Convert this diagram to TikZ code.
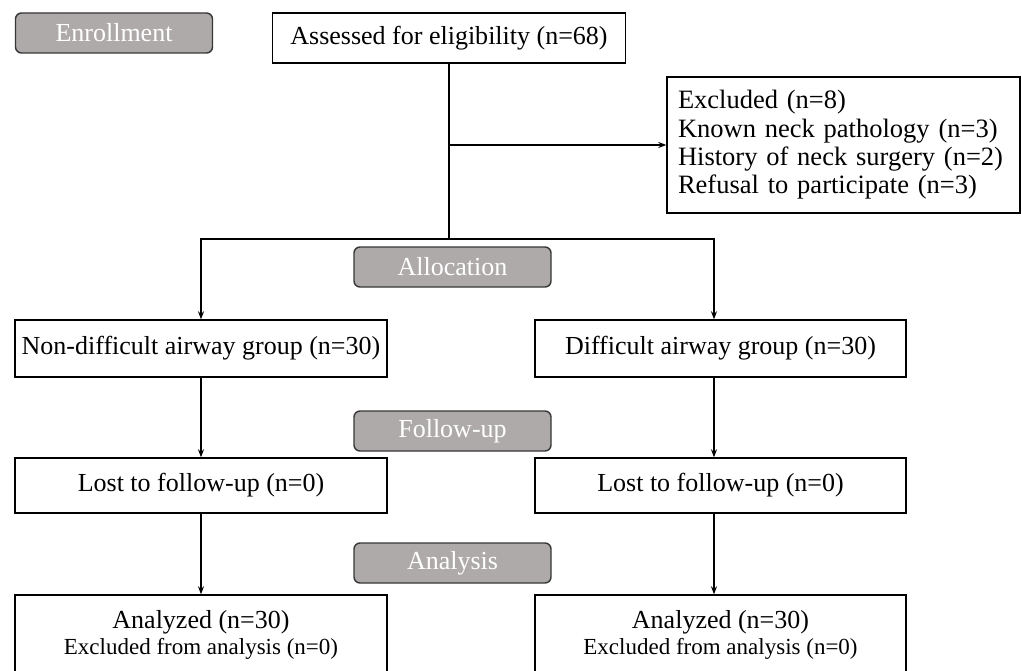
\documentclass[tikz,border=0pt]{standalone}
\usepackage{fontspec}
\setmainfont{Liberation Serif}
\usetikzlibrary{arrows.meta,calc}
\definecolor{labfill}{RGB}{174,170,170}
\definecolor{labdraw}{RGB}{55,55,55}
\tikzset{
  box/.style={draw=black, line width=1.4pt, fill=white, inner sep=0pt, align=center,
    font=\fontsize{26}{30}\selectfont},
  stage/.style={draw=labdraw, line width=1.4pt, fill=labfill, rounded corners=6pt,
    inner sep=0pt, text=white, minimum width=197pt, minimum height=40pt,
    font=\fontsize{26}{30}\selectfont},
  conn/.style={line width=1.4pt, draw=black},
  arr/.style={conn, -{Stealth[length=8pt,width=6pt]}}
}
\begin{document}
\begin{tikzpicture}[x=1pt,y=-1pt]
\useasboundingbox (0,0) rectangle (1022,671);
\clip (0,0) rectangle (1022,671);
\coordinate (lcol) at (201,0);
\coordinate (rcol) at (714,0);
\coordinate (jn) at (449,239);

\node[stage] (enr) at (114,33) {Enrollment};
\node[box, minimum width=353pt, minimum height=50pt] (assess) at (449,38) {Assessed for eligibility (n=68)};
\node[box, minimum width=353pt, minimum height=136pt, text width=331pt, align=left, inner xsep=11pt,
  font=\fontsize{26.5}{28.4}\selectfont] (excl) at (843.5,145)
  {Excluded (n=8)\\Known neck pathology (n=3)\\History of neck surgery (n=2)\\Refusal to participate (n=3)};

\node[stage] (alloc) at (452.5,267) {Allocation};
\node[box, minimum width=372pt, minimum height=57pt] (nd) at (201,348.5) {Non-difficult airway group (n=30)};
\node[box, minimum width=371pt, minimum height=57pt] (d) at (720.5,348.5) {Difficult airway group (n=30)};

\node[stage] (fu) at (452.5,431) {Follow-up};
\node[box, minimum width=372pt, minimum height=55pt] (lost1) at (201,485.5) {Lost to follow-up (n=0)};
\node[box, minimum width=371pt, minimum height=55pt] (lost2) at (720.5,485.5) {Lost to follow-up (n=0)};

\node[stage] (ana) at (452.5,563) {Analysis};
\node[box, minimum width=372pt, minimum height=80pt] (an1) at (201,635)
  {Analyzed (n=30)\\[-4pt]{\fontsize{23}{26}\selectfont Excluded from analysis (n=0)}};
\node[box, minimum width=371pt, minimum height=80pt] (an2) at (720.5,635)
  {Analyzed (n=30)\\[-4pt]{\fontsize{23}{26}\selectfont Excluded from analysis (n=0)}};

\draw[conn] (assess.south) -- (jn);
\draw[arr] (assess.south |- excl.west) -- (excl.west);
\draw[arr] (jn) -| (nd.north -| lcol);
\draw[arr] (jn) -| (d.north -| rcol);
\draw[arr] (nd.south -| lcol) -- (lost1.north -| lcol);
\draw[arr] (d.south -| rcol) -- (lost2.north -| rcol);
\draw[arr] (lost1.south -| lcol) -- (an1.north -| lcol);
\draw[arr] (lost2.south -| rcol) -- (an2.north -| rcol);
\end{tikzpicture}
\end{document}
